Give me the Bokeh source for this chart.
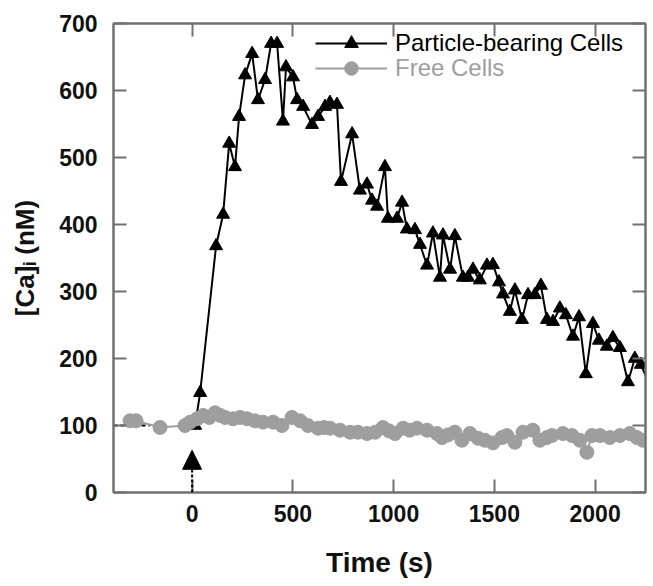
from bokeh.plotting import figure
from bokeh.models import (Range1d, FixedTicker, LinearAxis, Arrow, NormalHead,
                          Legend, LegendItem, CustomJSTickFormatter)
from bokeh.embed import file_html
from bokeh.resources import INLINE

# ---- data ----
black_t = [15, 40, 119, 154, 184, 213, 233, 263, 298, 327, 362, 392, 422, 451, 466, 501, 521, 551, 595, 625,
           660, 684, 719, 739, 794, 833, 868, 893, 918, 957, 972, 1017, 1042, 1066, 1106, 1131, 1166, 1195, 1230, 1245,
           1280, 1304, 1344, 1369, 1394, 1428, 1463, 1493, 1523, 1543, 1577, 1602, 1637, 1667, 1701, 1731, 1761, 1791,
           1825, 1855, 1890, 1920, 1954, 1989, 2019, 2058, 2088, 2123, 2163, 2197, 2227, 2300]
black_v = [100, 149, 368, 415, 521, 486, 561, 623, 655, 586, 616, 670, 670, 554, 635, 620, 586, 576, 549, 561,
           576, 582, 579, 464, 535, 451, 460, 436, 427, 486, 409, 409, 433, 393, 392, 370, 339, 387, 321, 384,
           333, 383, 321, 321, 333, 317, 339, 340, 314, 296, 270, 302, 258, 295, 295, 309, 258, 255,
           275, 265, 233, 262, 177, 252, 227, 218, 231, 216, 165, 200, 191, 140]

gray_t = [-308, -278, -159, -35, -10, 25, 55, 85, 114, 140, 164, 203, 238, 273, 312, 352, 402, 446, 496, 536,
          575, 625, 655, 684, 734, 784, 823, 868, 908, 947, 977, 1007, 1047, 1080, 1116, 1166, 1215, 1240, 1270, 1304,
          1339, 1379, 1419, 1453, 1493, 1538, 1562, 1602, 1642, 1691, 1726, 1760, 1786, 1840, 1885, 1924, 1959, 1984,
          2024, 2073, 2123, 2172, 2207, 2237]
gray_v = [107, 107, 97, 100, 105, 110, 115, 112, 119, 115, 112, 110, 112, 110, 107, 105, 105, 100, 112, 107,
          100, 96, 97, 96, 93, 90, 90, 88, 90, 97, 92, 88, 96, 93, 96, 93, 88, 82, 86, 90,
          78, 88, 81, 78, 74, 82, 85, 75, 90, 93, 78, 82, 85, 88, 85, 78, 60, 85,
          85, 82, 85, 88, 82, 78]

base_t = [-390, -210]
base_v = [100, 100]

arrow_t = 0
arrow_v = [0, 63]

x_ticks = [0, 500, 1000, 1500, 2000]
y_ticks = [0, 100, 200, 300, 400, 500, 600, 700]

series_labels = ["Particle-bearing Cells", "Free Cells"]

AX = "#707070"
GRAY = "#9e9e9e"
FONT = "Liberation Sans"

p = figure(width=648, height=580, x_range=Range1d(-390, 2250), y_range=Range1d(0, 700),
           output_backend="svg", toolbar_location=None, tools="",
           min_border_left=113, min_border_right=3, min_border_top=23, min_border_bottom=82)
p.xgrid.visible = False
p.ygrid.visible = False
p.outline_line_color = AX
p.outline_line_width = 2
p.background_fill_color = "white"
p.border_fill_color = "white"


def style_axis(ax):
    ax.axis_line_color = AX
    ax.axis_line_width = 2
    ax.major_tick_line_color = AX
    ax.major_tick_line_width = 2
    ax.major_tick_in = 13
    ax.major_tick_out = 0
    ax.minor_tick_line_color = None
    ax.major_label_text_font = FONT
    ax.major_label_text_font_style = "bold"
    ax.major_label_text_font_size = "23px"
    ax.major_label_text_color = "#111111"
    ax.axis_label_text_font = FONT
    ax.axis_label_text_font_style = "bold"
    ax.axis_label_text_color = "#111111"


xa = p.xaxis[0]
ya = p.yaxis[0]
xa.ticker = FixedTicker(ticks=x_ticks)
ya.ticker = FixedTicker(ticks=y_ticks)
style_axis(xa)
style_axis(ya)
xa.axis_label = "Time (s)"
ya.axis_label = "[Ca]ᵢ (nM)"
xa.axis_label_text_font_size = "28px"
ya.axis_label_text_font_size = "26px"
xa.major_label_standoff = 12
ya.major_label_standoff = 16
xa.axis_label_standoff = 22
ya.axis_label_standoff = 16

top = LinearAxis(ticker=FixedTicker(ticks=x_ticks), formatter=CustomJSTickFormatter(code="return ''"))
right = LinearAxis(ticker=FixedTicker(ticks=y_ticks), formatter=CustomJSTickFormatter(code="return ''"))
for ax in (top, right):
    style_axis(ax)
    ax.major_label_standoff = 0
    ax.major_label_text_font_size = "1px"
p.add_layout(top, "above")
p.add_layout(right, "right")

# ---- glyphs ----
bl = p.line(black_t, black_v, line_color="black", line_width=2)
bm = p.scatter(black_t, black_v, marker="triangle", size=13, fill_color="black", line_color="black")
p.line(base_t, base_v, line_color="black", line_width=2, line_dash="4 3")
gl = p.line(gray_t, gray_v, line_color=GRAY, line_width=2)
gm = p.scatter(gray_t, gray_v, marker="circle", size=14, fill_color=GRAY, line_color=GRAY)

p.add_layout(Arrow(end=NormalHead(size=19, fill_color="black", line_color="black", line_width=1),
                   x_start=arrow_t, y_start=arrow_v[0], x_end=arrow_t, y_end=arrow_v[1],
                   line_color="black", line_width=2, line_dash="3 2"))

# ---- legends ----
def make_legend(item, color, loc):
    lg = Legend(items=[item], location=loc, orientation="vertical")
    lg.glyph_width = 72
    lg.glyph_height = 34
    lg.label_height = 27
    lg.label_standoff = 8
    lg.label_text_font = FONT
    lg.label_text_font_size = "24px"
    lg.label_text_color = color
    lg.border_line_color = None
    lg.background_fill_alpha = 0
    lg.padding = 0
    lg.margin = 0
    lg.spacing = 0
    return lg

p.add_layout(make_legend(LegendItem(label=series_labels[0], renderers=[bl, bm]), "black", (202, 432)))
p.add_layout(make_legend(LegendItem(label=series_labels[1], renderers=[gl, gm]), GRAY, (202, 407)))

open("out.html", "w").write(file_html(p, INLINE))
